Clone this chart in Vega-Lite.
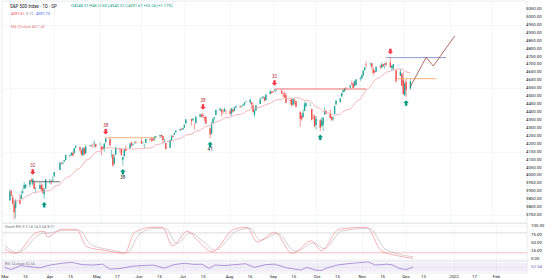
{
"$schema":"https://vega.github.io/schema/vega-lite/v6.json",
"padding":0,"spacing":0,"bounds":"flush","background":"white",
"config":{"font":"Roboto","view":{"stroke":"#d8dbe3","strokeWidth":0.6},
"axis":{"grid":true,"gridColor":"#eef1f6","gridWidth":0.6,"ticks":false,"domain":false,"title":null,"labels":false,"labelFontSize":4.5,"labelColor":"#131722","labelPadding":2},
"concat":{"spacing":0}},
"datasets":{
"ohlc":[
{"d":"2021-03-01","o":3842,"h":3914,"l":3842,"c":3901},{"d":"2021-03-02","o":3903,"h":3906,"l":3868,"c":3870},{"d":"2021-03-03","o":3863,"h":3874,"l":3818,"c":3820},{"d":"2021-03-04","o":3818,"h":3843,"l":3723,"c":3768},{"d":"2021-03-05","o":3793,"h":3851,"l":3730,"c":3842},
{"d":"2021-03-08","o":3844,"h":3881,"l":3819,"c":3821},{"d":"2021-03-09","o":3851,"h":3903,"l":3851,"c":3875},{"d":"2021-03-10","o":3891,"h":3917,"l":3885,"c":3898},{"d":"2021-03-11","o":3916,"h":3960,"l":3916,"c":3939},{"d":"2021-03-12","o":3924,"h":3944,"l":3915,"c":3943},
{"d":"2021-03-15","o":3942,"h":3970,"l":3924,"c":3969},{"d":"2021-03-16","o":3973,"h":3982,"l":3950,"c":3963},{"d":"2021-03-17","o":3949,"h":3984,"l":3935,"c":3974},{"d":"2021-03-18","o":3953,"h":3971,"l":3914,"c":3915},{"d":"2021-03-19","o":3913,"h":3930,"l":3886,"c":3913},
{"d":"2021-03-22","o":3916,"h":3955,"l":3911,"c":3940},{"d":"2021-03-23","o":3938,"h":3949,"l":3902,"c":3911},{"d":"2021-03-24","o":3920,"h":3943,"l":3889,"c":3889},{"d":"2021-03-25","o":3879,"h":3920,"l":3853,"c":3910},{"d":"2021-03-26","o":3917,"h":3978,"l":3917,"c":3975},
{"d":"2021-03-29","o":3969,"h":3981,"l":3944,"c":3971},{"d":"2021-03-30","o":3964,"h":3968,"l":3944,"c":3959},{"d":"2021-03-31","o":3967,"h":3994,"l":3967,"c":3973},{"d":"2021-04-01","o":3993,"h":4021,"l":3993,"c":4020},
{"d":"2021-04-05","o":4035,"h":4084,"l":4035,"c":4078},{"d":"2021-04-06","o":4075,"h":4087,"l":4069,"c":4074},{"d":"2021-04-07","o":4075,"h":4084,"l":4069,"c":4080},{"d":"2021-04-08","o":4090,"h":4098,"l":4082,"c":4097},{"d":"2021-04-09","o":4097,"h":4129,"l":4096,"c":4129},
{"d":"2021-04-12","o":4124,"h":4131,"l":4114,"c":4128},{"d":"2021-04-13","o":4130,"h":4148,"l":4124,"c":4142},{"d":"2021-04-14","o":4141,"h":4151,"l":4120,"c":4125},{"d":"2021-04-15","o":4140,"h":4173,"l":4140,"c":4171},{"d":"2021-04-16","o":4175,"h":4191,"l":4171,"c":4185},
{"d":"2021-04-19","o":4180,"h":4180,"l":4150,"c":4163},{"d":"2021-04-20","o":4159,"h":4164,"l":4119,"c":4135},{"d":"2021-04-21","o":4128,"h":4176,"l":4126,"c":4173},{"d":"2021-04-22","o":4170,"h":4179,"l":4124,"c":4135},{"d":"2021-04-23","o":4139,"h":4195,"l":4138,"c":4180},
{"d":"2021-04-26","o":4185,"h":4194,"l":4182,"c":4188},{"d":"2021-04-27","o":4188,"h":4193,"l":4176,"c":4187},{"d":"2021-04-28","o":4185,"h":4201,"l":4181,"c":4184},{"d":"2021-04-29","o":4207,"h":4219,"l":4177,"c":4211},{"d":"2021-04-30","o":4199,"h":4199,"l":4175,"c":4181},
{"d":"2021-05-03","o":4192,"h":4209,"l":4188,"c":4192},{"d":"2021-05-04","o":4180,"h":4187,"l":4128,"c":4165},{"d":"2021-05-05","o":4178,"h":4186,"l":4164,"c":4168},{"d":"2021-05-06","o":4170,"h":4202,"l":4148,"c":4201},{"d":"2021-05-07","o":4210,"h":4238,"l":4202,"c":4233},
{"d":"2021-05-10","o":4228,"h":4237,"l":4188,"c":4189},{"d":"2021-05-11","o":4151,"h":4162,"l":4111,"c":4152},{"d":"2021-05-12","o":4130,"h":4135,"l":4056,"c":4063},{"d":"2021-05-13","o":4074,"h":4131,"l":4069,"c":4113},{"d":"2021-05-14","o":4130,"h":4183,"l":4130,"c":4174},
{"d":"2021-05-17","o":4169,"h":4172,"l":4142,"c":4163},{"d":"2021-05-18","o":4165,"h":4170,"l":4125,"c":4128},{"d":"2021-05-19","o":4099,"h":4117,"l":4061,"c":4116},{"d":"2021-05-20","o":4121,"h":4172,"l":4119,"c":4160},{"d":"2021-05-21","o":4168,"h":4188,"l":4151,"c":4156},
{"d":"2021-05-24","o":4171,"h":4210,"l":4171,"c":4197},{"d":"2021-05-25","o":4205,"h":4213,"l":4182,"c":4188},{"d":"2021-05-26","o":4191,"h":4202,"l":4188,"c":4195},{"d":"2021-05-27","o":4201,"h":4213,"l":4197,"c":4201},{"d":"2021-05-28","o":4210,"h":4218,"l":4203,"c":4204},
{"d":"2021-06-01","o":4216,"h":4235,"l":4198,"c":4202},{"d":"2021-06-02","o":4207,"h":4215,"l":4197,"c":4208},{"d":"2021-06-03","o":4191,"h":4198,"l":4171,"c":4192},{"d":"2021-06-04","o":4206,"h":4233,"l":4206,"c":4230},
{"d":"2021-06-07","o":4229,"h":4232,"l":4215,"c":4226},{"d":"2021-06-08","o":4233,"h":4236,"l":4211,"c":4227},{"d":"2021-06-09","o":4232,"h":4237,"l":4218,"c":4219},{"d":"2021-06-10","o":4228,"h":4249,"l":4220,"c":4239},{"d":"2021-06-11","o":4242,"h":4249,"l":4233,"c":4247},
{"d":"2021-06-14","o":4248,"h":4255,"l":4234,"c":4255},{"d":"2021-06-15","o":4255,"h":4257,"l":4238,"c":4247},{"d":"2021-06-16","o":4249,"h":4252,"l":4202,"c":4224},{"d":"2021-06-17","o":4220,"h":4233,"l":4203,"c":4222},{"d":"2021-06-18","o":4204,"h":4205,"l":4164,"c":4166},
{"d":"2021-06-21","o":4174,"h":4226,"l":4174,"c":4224},{"d":"2021-06-22","o":4224,"h":4255,"l":4217,"c":4246},{"d":"2021-06-23","o":4249,"h":4256,"l":4241,"c":4242},{"d":"2021-06-24","o":4256,"h":4272,"l":4256,"c":4266},{"d":"2021-06-25","o":4274,"h":4286,"l":4267,"c":4281},
{"d":"2021-06-28","o":4284,"h":4292,"l":4280,"c":4291},{"d":"2021-06-29","o":4293,"h":4300,"l":4287,"c":4291},{"d":"2021-06-30","o":4290,"h":4302,"l":4288,"c":4297},{"d":"2021-07-01","o":4301,"h":4321,"l":4301,"c":4320},{"d":"2021-07-02","o":4327,"h":4355,"l":4327,"c":4352},
{"d":"2021-07-06","o":4356,"h":4357,"l":4315,"c":4343},{"d":"2021-07-07","o":4351,"h":4362,"l":4340,"c":4358},{"d":"2021-07-08","o":4321,"h":4331,"l":4289,"c":4320},{"d":"2021-07-09","o":4329,"h":4372,"l":4329,"c":4370},
{"d":"2021-07-12","o":4372,"h":4387,"l":4365,"c":4384},{"d":"2021-07-13","o":4381,"h":4392,"l":4366,"c":4369},{"d":"2021-07-14","o":4381,"h":4393,"l":4362,"c":4374},{"d":"2021-07-15","o":4369,"h":4369,"l":4340,"c":4360},{"d":"2021-07-16","o":4367,"h":4375,"l":4322,"c":4327},
{"d":"2021-07-19","o":4297,"h":4301,"l":4233,"c":4258},{"d":"2021-07-20","o":4265,"h":4337,"l":4259,"c":4323},{"d":"2021-07-21","o":4331,"h":4359,"l":4329,"c":4359},{"d":"2021-07-22","o":4361,"h":4369,"l":4351,"c":4368},{"d":"2021-07-23","o":4381,"h":4415,"l":4381,"c":4412},
{"d":"2021-07-26","o":4409,"h":4422,"l":4406,"c":4422},{"d":"2021-07-27","o":4416,"h":4416,"l":4372,"c":4401},{"d":"2021-07-28","o":4402,"h":4416,"l":4387,"c":4400},{"d":"2021-07-29","o":4403,"h":4430,"l":4403,"c":4419},{"d":"2021-07-30","o":4396,"h":4413,"l":4384,"c":4395},
{"d":"2021-08-02","o":4406,"h":4422,"l":4385,"c":4387},{"d":"2021-08-03","o":4392,"h":4423,"l":4373,"c":4423},{"d":"2021-08-04","o":4416,"h":4416,"l":4399,"c":4403},{"d":"2021-08-05","o":4407,"h":4430,"l":4404,"c":4429},{"d":"2021-08-06","o":4429,"h":4440,"l":4425,"c":4437},
{"d":"2021-08-09","o":4437,"h":4439,"l":4425,"c":4432},{"d":"2021-08-10","o":4435,"h":4445,"l":4430,"c":4436},{"d":"2021-08-11","o":4442,"h":4449,"l":4437,"c":4447},{"d":"2021-08-12","o":4447,"h":4461,"l":4436,"c":4460},{"d":"2021-08-13","o":4464,"h":4468,"l":4461,"c":4468},
{"d":"2021-08-16","o":4461,"h":4480,"l":4447,"c":4479},{"d":"2021-08-17","o":4462,"h":4462,"l":4422,"c":4449},{"d":"2021-08-18","o":4440,"h":4454,"l":4398,"c":4400},{"d":"2021-08-19","o":4383,"h":4418,"l":4367,"c":4406},{"d":"2021-08-20","o":4410,"h":4444,"l":4406,"c":4442},
{"d":"2021-08-23","o":4451,"h":4492,"l":4451,"c":4480},{"d":"2021-08-24","o":4484,"h":4492,"l":4482,"c":4486},{"d":"2021-08-25","o":4490,"h":4501,"l":4486,"c":4496},{"d":"2021-08-26","o":4493,"h":4495,"l":4468,"c":4470},{"d":"2021-08-27","o":4474,"h":4513,"l":4474,"c":4509},
{"d":"2021-08-30","o":4514,"h":4537,"l":4514,"c":4529},{"d":"2021-08-31","o":4529,"h":4532,"l":4515,"c":4523},{"d":"2021-09-01","o":4529,"h":4531,"l":4521,"c":4524},{"d":"2021-09-02","o":4535,"h":4545,"l":4528,"c":4537},{"d":"2021-09-03","o":4532,"h":4541,"l":4523,"c":4535},
{"d":"2021-09-07","o":4536,"h":4536,"l":4513,"c":4520},{"d":"2021-09-08","o":4518,"h":4521,"l":4493,"c":4514},{"d":"2021-09-09","o":4513,"h":4529,"l":4493,"c":4493},{"d":"2021-09-10","o":4506,"h":4520,"l":4457,"c":4458},
{"d":"2021-09-13","o":4474,"h":4479,"l":4446,"c":4469},{"d":"2021-09-14","o":4479,"h":4485,"l":4435,"c":4443},{"d":"2021-09-15","o":4447,"h":4486,"l":4439,"c":4481},{"d":"2021-09-16","o":4477,"h":4485,"l":4447,"c":4474},{"d":"2021-09-17","o":4469,"h":4471,"l":4427,"c":4433},
{"d":"2021-09-20","o":4402,"h":4402,"l":4306,"c":4358},{"d":"2021-09-21","o":4375,"h":4394,"l":4347,"c":4354},{"d":"2021-09-22","o":4367,"h":4416,"l":4367,"c":4396},{"d":"2021-09-23","o":4406,"h":4465,"l":4406,"c":4449},{"d":"2021-09-24","o":4438,"h":4463,"l":4431,"c":4455},
{"d":"2021-09-27","o":4442,"h":4457,"l":4436,"c":4443},{"d":"2021-09-28","o":4419,"h":4419,"l":4346,"c":4353},{"d":"2021-09-29","o":4362,"h":4385,"l":4355,"c":4360},{"d":"2021-09-30","o":4375,"h":4382,"l":4306,"c":4308},{"d":"2021-10-01","o":4318,"h":4375,"l":4288,"c":4357},
{"d":"2021-10-04","o":4348,"h":4356,"l":4279,"c":4300},{"d":"2021-10-05","o":4310,"h":4369,"l":4310,"c":4346},{"d":"2021-10-06","o":4320,"h":4366,"l":4279,"c":4364},{"d":"2021-10-07","o":4384,"h":4429,"l":4384,"c":4399},{"d":"2021-10-08","o":4406,"h":4412,"l":4386,"c":4391},
{"d":"2021-10-11","o":4391,"h":4415,"l":4360,"c":4361},{"d":"2021-10-12","o":4368,"h":4374,"l":4343,"c":4350},{"d":"2021-10-13","o":4358,"h":4373,"l":4345,"c":4364},{"d":"2021-10-14","o":4387,"h":4439,"l":4387,"c":4438},{"d":"2021-10-15","o":4447,"h":4475,"l":4447,"c":4471},
{"d":"2021-10-18","o":4463,"h":4488,"l":4459,"c":4486},{"d":"2021-10-19","o":4497,"h":4521,"l":4497,"c":4520},{"d":"2021-10-20","o":4524,"h":4540,"l":4524,"c":4537},{"d":"2021-10-21","o":4532,"h":4551,"l":4527,"c":4549},{"d":"2021-10-22","o":4547,"h":4559,"l":4540,"c":4545},
{"d":"2021-10-25","o":4554,"h":4573,"l":4547,"c":4567},{"d":"2021-10-26","o":4579,"h":4598,"l":4569,"c":4575},{"d":"2021-10-27","o":4580,"h":4585,"l":4552,"c":4552},{"d":"2021-10-28","o":4563,"h":4598,"l":4563,"c":4596},{"d":"2021-10-29","o":4572,"h":4608,"l":4568,"c":4605},
{"d":"2021-11-01","o":4610,"h":4621,"l":4596,"c":4614},{"d":"2021-11-02","o":4613,"h":4635,"l":4604,"c":4631},{"d":"2021-11-03","o":4630,"h":4664,"l":4624,"c":4660},{"d":"2021-11-04","o":4662,"h":4684,"l":4663,"c":4680},{"d":"2021-11-05","o":4699,"h":4718,"l":4681,"c":4697},
{"d":"2021-11-08","o":4702,"h":4714,"l":4694,"c":4702},{"d":"2021-11-09","o":4708,"h":4708,"l":4671,"c":4685},{"d":"2021-11-10","o":4670,"h":4685,"l":4630,"c":4646},{"d":"2021-11-11","o":4659,"h":4664,"l":4648,"c":4649},{"d":"2021-11-12","o":4656,"h":4688,"l":4651,"c":4683},
{"d":"2021-11-15","o":4689,"h":4697,"l":4672,"c":4683},{"d":"2021-11-16","o":4680,"h":4714,"l":4680,"c":4701},{"d":"2021-11-17","o":4701,"h":4701,"l":4684,"c":4689},{"d":"2021-11-18","o":4700,"h":4708,"l":4672,"c":4705},{"d":"2021-11-19","o":4708,"h":4718,"l":4690,"c":4698},
{"d":"2021-11-22","o":4712,"h":4743,"l":4680,"c":4682},{"d":"2021-11-23","o":4679,"h":4692,"l":4659,"c":4691},{"d":"2021-11-24","o":4675,"h":4702,"l":4659,"c":4701},{"d":"2021-11-26","o":4664,"h":4664,"l":4585,"c":4595},
{"d":"2021-11-29","o":4628,"h":4672,"l":4626,"c":4655},{"d":"2021-11-30","o":4640,"h":4646,"l":4560,"c":4567},{"d":"2021-12-01","o":4602,"h":4652,"l":4510,"c":4513},{"d":"2021-12-02","o":4504,"h":4595,"l":4504,"c":4577},{"d":"2021-12-03","o":4589,"h":4608,"l":4495,"c":4538},
{"d":"2021-12-06","o":4548,"h":4612,"l":4540,"c":4591.67}
],
"arrows":[
{"d":"2021-03-17","v":3984,"t":"dn","lab":"32"},{"d":"2021-05-07","v":4238,"t":"dn","lab":"38"},{"d":"2021-07-14","v":4393,"t":"dn","lab":"38"},{"d":"2021-09-02","v":4545,"t":"dn","lab":"32"},{"d":"2021-11-22","v":4743,"t":"dn","lab":""},
{"d":"2021-03-25","v":3853,"t":"up","lab":""},{"d":"2021-05-19","v":4061,"t":"up","lab":"38"},{"d":"2021-07-19","v":4233,"t":"up","lab":"41"},{"d":"2021-10-04","v":4279,"t":"up","lab":""},{"d":"2021-12-03","v":4495,"t":"up","lab":""}
],
"levels":[
{"s":"2021-03-17","e":"2021-04-05","v":3960,"k":"a"},
{"s":"2021-05-07","e":"2021-06-11","v":4238,"k":"b"},
{"s":"2021-09-02","e":"2021-11-05","v":4545,"k":"c"},
{"s":"2021-11-19","e":"2021-12-31","v":4743,"k":"d"},
{"s":"2021-11-27","e":"2021-12-24","v":4610,"k":"b"}
],
"proj":[
{"d":"2021-12-06","v":4560},{"d":"2021-12-17","v":4745},{"d":"2021-12-22","v":4690},{"d":"2022-01-06","v":4880}
],
"pticks":[{"p":3750},{"p":3800},{"p":3850},{"p":3900},{"p":3950},{"p":4000},{"p":4050},{"p":4100},{"p":4150},{"p":4200},{"p":4250},{"p":4300},{"p":4350},{"p":4400},{"p":4450},{"p":4500},{"p":4550},{"p":4600},{"p":4650},{"p":4700},{"p":4750},{"p":4800},{"p":4850},{"p":4900},{"p":4950},{"p":5000},{"p":5050}],
"sticks":[{"p":0},{"p":25},{"p":50},{"p":75},{"p":100}],
"dticks":[{"d":"2021-03-01","t":"Mar"},{"d":"2021-03-15","t":"15"},{"d":"2021-04-01","t":"Apr"},{"d":"2021-04-15","t":"15"},{"d":"2021-05-03","t":"May"},{"d":"2021-05-17","t":"17"},{"d":"2021-06-01","t":"Jun"},{"d":"2021-06-15","t":"15"},{"d":"2021-07-01","t":"Jul"},{"d":"2021-07-15","t":"15"},{"d":"2021-08-02","t":"Aug"},{"d":"2021-08-16","t":"16"},{"d":"2021-09-01","t":"Sep"},{"d":"2021-09-15","t":"15"},{"d":"2021-10-01","t":"Oct"},{"d":"2021-10-15","t":"15"},{"d":"2021-11-01","t":"Nov"},{"d":"2021-11-15","t":"15"},{"d":"2021-12-01","t":"Dec"},{"d":"2021-12-13","t":"13"},{"d":"2022-01-03","t":"2022"},{"d":"2022-01-17","t":"17"},{"d":"2022-02-01","t":"Feb"}],
"stoch":[
{"d":"2021-03-01","s":"K","v":32},{"d":"2021-03-08","s":"K","v":18},{"d":"2021-03-23","s":"K","v":82},{"d":"2021-03-28","s":"K","v":85},{"d":"2021-03-30","s":"K","v":68},{"d":"2021-04-09","s":"K","v":91},{"d":"2021-04-19","s":"K","v":91},{"d":"2021-04-26","s":"K","v":38},{"d":"2021-05-10","s":"K","v":26},{"d":"2021-05-22","s":"K","v":18},{"d":"2021-05-29","s":"K","v":82},{"d":"2021-06-10","s":"K","v":97},{"d":"2021-06-17","s":"K","v":97},{"d":"2021-06-24","s":"K","v":41},{"d":"2021-07-04","s":"K","v":85},{"d":"2021-07-12","s":"K","v":53},{"d":"2021-07-21","s":"K","v":23},{"d":"2021-08-05","s":"K","v":91},{"d":"2021-08-14","s":"K","v":97},{"d":"2021-08-21","s":"K","v":53},{"d":"2021-09-02","s":"K","v":82},{"d":"2021-09-14","s":"K","v":18},{"d":"2021-09-27","s":"K","v":56},{"d":"2021-10-04","s":"K","v":26},{"d":"2021-10-16","s":"K","v":91},{"d":"2021-11-04","s":"K","v":97},{"d":"2021-11-14","s":"K","v":26},{"d":"2021-11-24","s":"K","v":12},{"d":"2021-12-06","s":"K","v":3},
{"d":"2021-03-01","s":"D","v":42},{"d":"2021-03-10","s":"D","v":20},{"d":"2021-03-26","s":"D","v":78},{"d":"2021-03-31","s":"D","v":80},{"d":"2021-04-12","s":"D","v":88},{"d":"2021-04-21","s":"D","v":88},{"d":"2021-04-29","s":"D","v":45},{"d":"2021-05-13","s":"D","v":28},{"d":"2021-05-24","s":"D","v":20},{"d":"2021-06-01","s":"D","v":75},{"d":"2021-06-12","s":"D","v":94},{"d":"2021-06-19","s":"D","v":94},{"d":"2021-06-27","s":"D","v":48},{"d":"2021-07-06","s":"D","v":80},{"d":"2021-07-14","s":"D","v":58},{"d":"2021-07-23","s":"D","v":28},{"d":"2021-08-07","s":"D","v":86},{"d":"2021-08-16","s":"D","v":94},{"d":"2021-08-23","s":"D","v":58},{"d":"2021-09-04","s":"D","v":78},{"d":"2021-09-16","s":"D","v":24},{"d":"2021-09-29","s":"D","v":50},{"d":"2021-10-06","s":"D","v":32},{"d":"2021-10-18","s":"D","v":86},{"d":"2021-11-06","s":"D","v":94},{"d":"2021-11-16","s":"D","v":34},{"d":"2021-11-26","s":"D","v":16},{"d":"2021-12-06","s":"D","v":8}
],
"rsi":[
{"d":"2021-03-01","v":50},{"d":"2021-03-05","v":40},{"d":"2021-03-12","v":58},{"d":"2021-03-19","v":52},{"d":"2021-03-25","v":48},{"d":"2021-04-01","v":60},{"d":"2021-04-09","v":68},{"d":"2021-04-16","v":72},{"d":"2021-04-23","v":62},{"d":"2021-04-30","v":60},{"d":"2021-05-07","v":64},{"d":"2021-05-12","v":42},{"d":"2021-05-19","v":45},{"d":"2021-05-28","v":55},{"d":"2021-06-04","v":58},{"d":"2021-06-11","v":60},{"d":"2021-06-18","v":46},{"d":"2021-06-25","v":62},{"d":"2021-07-02","v":68},{"d":"2021-07-09","v":63},{"d":"2021-07-14","v":64},{"d":"2021-07-19","v":45},{"d":"2021-07-23","v":60},{"d":"2021-07-30","v":58},{"d":"2021-08-06","v":62},{"d":"2021-08-13","v":66},{"d":"2021-08-19","v":50},{"d":"2021-08-27","v":62},{"d":"2021-09-02","v":64},{"d":"2021-09-10","v":48},{"d":"2021-09-20","v":38},{"d":"2021-09-24","v":50},{"d":"2021-09-30","v":38},{"d":"2021-10-04","v":36},{"d":"2021-10-08","v":48},{"d":"2021-10-15","v":60},{"d":"2021-10-22","v":66},{"d":"2021-10-29","v":70},{"d":"2021-11-05","v":74},{"d":"2021-11-10","v":60},{"d":"2021-11-18","v":64},{"d":"2021-11-22","v":60},{"d":"2021-11-26","v":46},{"d":"2021-12-01","v":40},{"d":"2021-12-03","v":44},{"d":"2021-12-06","v":52}
]
},
"vconcat":[
{
"width":525,"height":222,
"layer":[
{"data":{"name":"ohlc"},"mark":{"type":"rule","strokeWidth":0.6},
"encoding":{
"x":{"field":"d","type":"temporal","scale":{"type":"utc","domain":[{"year":2021,"month":"feb","date":27,"utc":true},{"year":2022,"month":"feb","date":22,"utc":true}]},
"axis":{"values":[{"year":2021,"month":"mar","date":1,"utc":true},{"year":2021,"month":"mar","date":15,"utc":true},{"year":2021,"month":"apr","date":1,"utc":true},{"year":2021,"month":"apr","date":15,"utc":true},{"year":2021,"month":"may","date":3,"utc":true},{"year":2021,"month":"may","date":17,"utc":true},{"year":2021,"month":"jun","date":1,"utc":true},{"year":2021,"month":"jun","date":15,"utc":true},{"year":2021,"month":"jul","date":1,"utc":true},{"year":2021,"month":"jul","date":15,"utc":true},{"year":2021,"month":"aug","date":2,"utc":true},{"year":2021,"month":"aug","date":16,"utc":true},{"year":2021,"month":"sep","date":1,"utc":true},{"year":2021,"month":"sep","date":15,"utc":true},{"year":2021,"month":"oct","date":1,"utc":true},{"year":2021,"month":"oct","date":15,"utc":true},{"year":2021,"month":"nov","date":1,"utc":true},{"year":2021,"month":"nov","date":15,"utc":true},{"year":2021,"month":"dec","date":1,"utc":true},{"year":2021,"month":"dec","date":13,"utc":true},{"year":2022,"month":"jan","date":3,"utc":true},{"year":2022,"month":"jan","date":17,"utc":true},{"year":2022,"month":"feb","date":1,"utc":true}]}},
"y":{"field":"l","type":"quantitative","scale":{"domain":[3700,5100],"nice":false,"zero":false},
"axis":{"orient":"right","values":[3750,3800,3850,3900,3950,4000,4050,4100,4150,4200,4250,4300,4350,4400,4450,4500,4550,4600,4650,4700,4750,4800,4850,4900,4950,5000,5050]}},
"y2":{"field":"h"},
"color":{"condition":{"test":"datum.c >= datum.o","value":"#26a69a"},"value":"#ef5350"}}},
{"data":{"name":"ohlc"},"mark":{"type":"bar","size":1.4},
"encoding":{"x":{"field":"d","type":"temporal"},"y":{"field":"o","type":"quantitative"},"y2":{"field":"c"},
"color":{"condition":{"test":"datum.c >= datum.o","value":"#26a69a"},"value":"#ef5350"}}},
{"data":{"name":"ohlc"},"transform":[{"window":[{"op":"mean","field":"c","as":"ma"}],"frame":[-19,0],"sort":[{"field":"d"}]}],
"mark":{"type":"line","stroke":"#f4a3a8","strokeWidth":0.8},
"encoding":{"x":{"field":"d","type":"temporal"},"y":{"field":"ma","type":"quantitative"}}},
{"data":{"name":"levels"},"transform":[{"filter":"datum.k == 'a'"}],"mark":{"type":"rule","strokeWidth":0.8,"color":"#434651"},
"encoding":{"x":{"field":"s","type":"temporal"},"x2":{"field":"e"},"y":{"field":"v","type":"quantitative"}}},
{"data":{"name":"levels"},"transform":[{"filter":"datum.k == 'b'"}],"mark":{"type":"rule","strokeWidth":0.8,"color":"#f5a25d"},
"encoding":{"x":{"field":"s","type":"temporal"},"x2":{"field":"e"},"y":{"field":"v","type":"quantitative"}}},
{"data":{"name":"levels"},"transform":[{"filter":"datum.k == 'c'"}],"mark":{"type":"rule","strokeWidth":0.9,"color":"#ef5f5f"},
"encoding":{"x":{"field":"s","type":"temporal"},"x2":{"field":"e"},"y":{"field":"v","type":"quantitative"}}},
{"data":{"name":"levels"},"transform":[{"filter":"datum.k == 'd'"}],"mark":{"type":"rule","strokeWidth":0.9,"color":"#7f93c4"},
"encoding":{"x":{"field":"s","type":"temporal"},"x2":{"field":"e"},"y":{"field":"v","type":"quantitative"}}},
{"data":{"name":"proj"},"mark":{"type":"line","stroke":"#a04a3c","strokeWidth":0.8},
"encoding":{"x":{"field":"d","type":"temporal"},"y":{"field":"v","type":"quantitative"}}},
{"data":{"name":"arrows"},"transform":[{"filter":"datum.t == 'dn'"}],
"mark":{"type":"point","filled":true,"color":"#f23645","opacity":1,"size":30,"yOffset":-6,"shape":"M-0.45,-1H0.45V0H1L0,1L-1,0H-0.45Z"},
"encoding":{"x":{"field":"d","type":"temporal"},"y":{"field":"v","type":"quantitative"}}},
{"data":{"name":"arrows"},"transform":[{"filter":"datum.t == 'up'"}],
"mark":{"type":"point","filled":true,"color":"#089981","opacity":1,"size":30,"yOffset":6,"shape":"M-0.45,1H0.45V0H1L0,-1L-1,0H-0.45Z"},
"encoding":{"x":{"field":"d","type":"temporal"},"y":{"field":"v","type":"quantitative"}}},
{"data":{"name":"arrows"},"transform":[{"filter":"datum.t == 'dn'"}],
"mark":{"type":"text","fontSize":4.5,"color":"#b22833","yOffset":-12},
"encoding":{"x":{"field":"d","type":"temporal"},"y":{"field":"v","type":"quantitative"},"text":{"field":"lab"}}},
{"data":{"name":"arrows"},"transform":[{"filter":"datum.t == 'up'"}],
"mark":{"type":"text","fontSize":4.5,"color":"#131722","yOffset":12},
"encoding":{"x":{"field":"d","type":"temporal"},"y":{"field":"v","type":"quantitative"},"text":{"field":"lab"}}},
{"data":{"name":"pticks"},
"mark":{"type":"text","fontSize":4.3,"color":"#131722","align":"left","dx":4},
"encoding":{"x":{"datum":{"year":2022,"month":"feb","date":22,"utc":true}},"y":{"field":"p","type":"quantitative"},"text":{"field":"p","format":".2f"}}},
{"data":{"name":"ohlc"},"transform":[{"filter":"datum.d == '2021-12-06'"}],
"mark":{"type":"rule","stroke":"#26a69a","strokeWidth":0.5,"strokeDash":[1,1.5]},
"encoding":{"y":{"field":"c","type":"quantitative"}}},
{"data":{"name":"ohlc"},"transform":[{"filter":"datum.d == '2021-12-06'"}],
"mark":{"type":"point","filled":true,"color":"#26a69a","opacity":1,"size":64,"xOffset":1,"shape":"M0,-1.1H5.6V1.1H0Z"},
"encoding":{"x":{"datum":{"year":2022,"month":"feb","date":22,"utc":true}},"y":{"field":"c","type":"quantitative"}}},
{"data":{"name":"ohlc"},"transform":[{"filter":"datum.d == '2021-12-06'"}],
"mark":{"type":"text","fontSize":4.2,"color":"white","align":"left","dx":4},
"encoding":{"x":{"datum":{"year":2022,"month":"feb","date":22,"utc":true}},"y":{"field":"c","type":"quantitative"},"text":{"field":"c","format":".2f"}}},
{"data":{"values":[{"t":"S&P 500 Index · 1D · SP"}]},
"mark":{"type":"text","fontSize":4.5,"color":"#131722","align":"left","baseline":"top","dx":3,"dy":3},
"encoding":{"x":{"datum":{"year":2021,"month":"feb","date":27,"utc":true}},"y":{"datum":5100},"text":{"field":"t"}}},
{"data":{"values":[{"t":"O4548.37 H4612.60 L4540.51 C4591.67 +53.24 (+1.17%)"}]},
"mark":{"type":"text","fontSize":4,"color":"#089981","align":"left","baseline":"top","dx":64,"dy":3.4},
"encoding":{"x":{"datum":{"year":2021,"month":"feb","date":27,"utc":true}},"y":{"datum":5100},"text":{"field":"t"}}},
{"data":{"values":[{"t":"4591.61"}]},
"mark":{"type":"text","fontSize":3.8,"align":"left","baseline":"top","dx":4,"dy":11,"color":"#f23645"},
"encoding":{"x":{"datum":{"year":2021,"month":"feb","date":27,"utc":true}},"y":{"datum":5100},"text":{"field":"t"}}},
{"data":{"values":[{"t":"0.12"}]},
"mark":{"type":"text","fontSize":3.8,"align":"left","baseline":"top","dx":19,"dy":11,"color":"#787b86"},
"encoding":{"x":{"datum":{"year":2021,"month":"feb","date":27,"utc":true}},"y":{"datum":5100},"text":{"field":"t"}}},
{"data":{"values":[{"t":"4591.73"}]},
"mark":{"type":"text","fontSize":3.8,"align":"left","baseline":"top","dx":29,"dy":11,"color":"#2962ff"},
"encoding":{"x":{"datum":{"year":2021,"month":"feb","date":27,"utc":true}},"y":{"datum":5100},"text":{"field":"t"}}},
{"data":{"values":[{"t":"MA 20 close  4611.43"}]},
"mark":{"type":"text","fontSize":3.6,"align":"left","baseline":"top","dx":4,"dy":24,"color":"#e57373"},
"encoding":{"x":{"datum":{"year":2021,"month":"feb","date":27,"utc":true}},"y":{"datum":5100},"text":{"field":"t"}}}
]
},
{
"width":525,"height":38,
"layer":[
{"data":{"values":[{"v":80}]},"mark":{"type":"rule","strokeWidth":0.6,"color":"#c9c2c2"},
"encoding":{"y":{"field":"v","type":"quantitative","scale":{"domain":[-5,110],"nice":false,"zero":false},"axis":{"orient":"right","values":[0,25,50,75,100]}}}},
{"data":{"values":[{"v":20}]},"mark":{"type":"rule","strokeWidth":0.6,"color":"#ef9a9a"},
"encoding":{"y":{"field":"v","type":"quantitative"}}},
{"data":{"name":"stoch"},"transform":[{"filter":"datum.s == 'D'"}],"mark":{"type":"line","strokeWidth":0.6,"interpolate":"monotone","color":"#c6a9a9"},
"encoding":{
"x":{"field":"d","type":"temporal","scale":{"type":"utc","domain":[{"year":2021,"month":"feb","date":27,"utc":true},{"year":2022,"month":"feb","date":22,"utc":true}]},
"axis":{"values":[{"year":2021,"month":"mar","date":1,"utc":true},{"year":2021,"month":"mar","date":15,"utc":true},{"year":2021,"month":"apr","date":1,"utc":true},{"year":2021,"month":"apr","date":15,"utc":true},{"year":2021,"month":"may","date":3,"utc":true},{"year":2021,"month":"may","date":17,"utc":true},{"year":2021,"month":"jun","date":1,"utc":true},{"year":2021,"month":"jun","date":15,"utc":true},{"year":2021,"month":"jul","date":1,"utc":true},{"year":2021,"month":"jul","date":15,"utc":true},{"year":2021,"month":"aug","date":2,"utc":true},{"year":2021,"month":"aug","date":16,"utc":true},{"year":2021,"month":"sep","date":1,"utc":true},{"year":2021,"month":"sep","date":15,"utc":true},{"year":2021,"month":"oct","date":1,"utc":true},{"year":2021,"month":"oct","date":15,"utc":true},{"year":2021,"month":"nov","date":1,"utc":true},{"year":2021,"month":"nov","date":15,"utc":true},{"year":2021,"month":"dec","date":1,"utc":true},{"year":2021,"month":"dec","date":13,"utc":true},{"year":2022,"month":"jan","date":3,"utc":true},{"year":2022,"month":"jan","date":17,"utc":true},{"year":2022,"month":"feb","date":1,"utc":true}]}},
"y":{"field":"v","type":"quantitative"}}},
{"data":{"name":"stoch"},"transform":[{"filter":"datum.s == 'K'"}],"mark":{"type":"line","strokeWidth":0.6,"interpolate":"monotone","color":"#f0808a"},
"encoding":{"x":{"field":"d","type":"temporal"},"y":{"field":"v","type":"quantitative"}}},
{"data":{"name":"sticks"},
"mark":{"type":"text","fontSize":4.3,"color":"#131722","align":"left","dx":4},
"encoding":{"x":{"datum":{"year":2022,"month":"feb","date":22,"utc":true}},"y":{"field":"p","type":"quantitative"},"text":{"field":"p","format":".2f"}}},
{"data":{"values":[{"t":"Stoch RSI 3 3 14 14  3.04  8.71"}]},
"mark":{"type":"text","fontSize":3.8,"color":"#787b86","align":"left","baseline":"top","dx":3,"dy":1.5},
"encoding":{"x":{"datum":{"year":2021,"month":"feb","date":27,"utc":true}},"y":{"datum":110},"text":{"field":"t"}}}
]
},
{
"width":525,"height":12,
"layer":[
{"data":{"values":[{"a":30,"b":70}]},"mark":{"type":"rect","color":"#7e57c2","opacity":0.1},
"encoding":{"y":{"field":"a","type":"quantitative","scale":{"domain":[25,78],"nice":false,"zero":false},"axis":{"orient":"right","values":[50]}},"y2":{"field":"b"}}},
{"data":{"name":"rsi"},"mark":{"type":"line","color":"#7e57c2","strokeWidth":0.6},
"encoding":{
"x":{"field":"d","type":"temporal","scale":{"type":"utc","domain":[{"year":2021,"month":"feb","date":27,"utc":true},{"year":2022,"month":"feb","date":22,"utc":true}]},
"axis":{"values":[{"year":2021,"month":"mar","date":1,"utc":true},{"year":2021,"month":"mar","date":15,"utc":true},{"year":2021,"month":"apr","date":1,"utc":true},{"year":2021,"month":"apr","date":15,"utc":true},{"year":2021,"month":"may","date":3,"utc":true},{"year":2021,"month":"may","date":17,"utc":true},{"year":2021,"month":"jun","date":1,"utc":true},{"year":2021,"month":"jun","date":15,"utc":true},{"year":2021,"month":"jul","date":1,"utc":true},{"year":2021,"month":"jul","date":15,"utc":true},{"year":2021,"month":"aug","date":2,"utc":true},{"year":2021,"month":"aug","date":16,"utc":true},{"year":2021,"month":"sep","date":1,"utc":true},{"year":2021,"month":"sep","date":15,"utc":true},{"year":2021,"month":"oct","date":1,"utc":true},{"year":2021,"month":"oct","date":15,"utc":true},{"year":2021,"month":"nov","date":1,"utc":true},{"year":2021,"month":"nov","date":15,"utc":true},{"year":2021,"month":"dec","date":1,"utc":true},{"year":2021,"month":"dec","date":13,"utc":true},{"year":2022,"month":"jan","date":3,"utc":true},{"year":2022,"month":"jan","date":17,"utc":true},{"year":2022,"month":"feb","date":1,"utc":true}]}},
"y":{"field":"v","type":"quantitative"}}},
{"data":{"values":[{"p":52.34}]},
"mark":{"type":"text","fontSize":4.3,"color":"#7e57c2","align":"left","dx":4},
"encoding":{"x":{"datum":{"year":2022,"month":"feb","date":22,"utc":true}},"y":{"field":"p","type":"quantitative"},"text":{"field":"p","format":".2f"}}},
{"data":{"name":"dticks"},
"mark":{"type":"text","fontSize":4.3,"color":"#131722","baseline":"top","dy":1.5},
"encoding":{"x":{"field":"d","type":"temporal"},"y":{"datum":25},"text":{"field":"t"}}},
{"data":{"values":[{"t":"RSI 14 close  52.34"}]},
"mark":{"type":"text","fontSize":3.6,"color":"#787b86","align":"left","baseline":"top","dx":3,"dy":1},
"encoding":{"x":{"datum":{"year":2021,"month":"feb","date":27,"utc":true}},"y":{"datum":78},"text":{"field":"t"}}}
]
}
]
}
